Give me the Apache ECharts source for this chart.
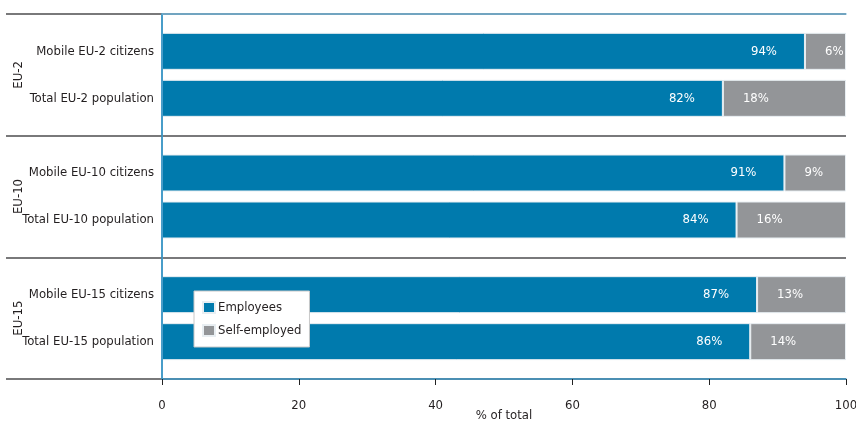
<!DOCTYPE html>
<html><head><meta charset="utf-8">
<script src="https://cdn.jsdelivr.net/npm/echarts@6/dist/echarts.min.js"></script>
<style>html,body{margin:0;padding:0;background:#fff}#c{width:856px;height:425px}</style>
</head><body><div id="c"></div>
<script>
var groups = ['EU-2', 'EU-10', 'EU-15'];
var categories = [
  ['Mobile EU-2 citizens', 'Total EU-2 population'],
  ['Mobile EU-10 citizens', 'Total EU-10 population'],
  ['Mobile EU-15 citizens', 'Total EU-15 population']
];
var employees = [[94, 82], [91, 84], [87, 86]];
var selfEmployed = [[6, 18], [9, 16], [13, 14]];
var seriesNames = ['Employees', 'Self-employed'];
var xMin = 0, xMax = 100, xInterval = 20;
var xName = '% of total';

var FONT = "'DejaVu Sans Condensed', 'Liberation Sans Narrow', sans-serif";
var FS = 13;
var TXT = '#231f20';
var BLUE = '#007aad', GREY = '#939598';
var FRAME = '#3d97c6', DARK = '#4d4d4f';
var L = 162, R = 10, T = 14, B = 46, H = 425, W = 856;
var plotH = H - T - B;
var gh = plotH / groups.length;
var inner = 94;

var grids = [{left: L, right: R, top: T, bottom: B, outerBoundsMode: 'none', containLabel: false}];
var xAxes = [
  {gridIndex: 0, type: 'value', min: xMin, max: xMax, interval: xInterval, position: 'bottom', z: 5,
   axisLine: {show: true, lineStyle: {color: FRAME, width: 1.5}},
   axisTick: {show: true, length: 6, lineStyle: {color: '#222'}},
   axisLabel: {color: TXT, fontFamily: FONT, fontSize: FS, margin: 20},
   splitLine: {show: false}},
  {gridIndex: 0, type: 'value', min: xMin, max: xMax, position: 'top', z: 5,
   axisLine: {show: true, lineStyle: {color: '#6fb3d8', width: 1.5}},
   axisTick: {show: false}, axisLabel: {show: false}, splitLine: {show: false}}
];
var yAxes = [
  {gridIndex: 0, type: 'category', data: groups, inverse: true, position: 'left', z: 4,
   axisLine: {show: true, lineStyle: {color: FRAME, width: 1.5}},
   axisTick: {show: true, length: 156, lineStyle: {color: DARK, width: 1.5}},
   splitLine: {show: true, lineStyle: {color: DARK, width: 1.5}},
   axisLabel: {rotate: 90, margin: 137, color: TXT, fontFamily: FONT, fontSize: FS}},
  {gridIndex: 0, type: 'category', data: groups, inverse: true, position: 'right', z: 5,
   axisLine: {show: true, lineStyle: {color: FRAME, width: 1.5}},
   axisTick: {show: false}, axisLabel: {show: false}, splitLine: {show: false}}
];
var series = [];
groups.forEach(function (g, i) {
  var gi = i + 1;
  var top = T + gh * i + (gh - inner) / 2;
  grids.push({left: L, right: R, top: top, height: inner, outerBoundsMode: 'none', containLabel: false});
  xAxes.push({gridIndex: gi, type: 'value', min: xMin, max: xMax, show: false});
  yAxes.push({gridIndex: gi, type: 'category', data: categories[i], inverse: true, z: 6,
    axisLine: {show: false}, axisTick: {show: false}, splitLine: {show: false},
    axisLabel: {margin: 8, color: TXT, fontFamily: FONT, fontSize: FS}});
  series.push({
    name: seriesNames[0], type: 'bar', stack: 's' + i, xAxisIndex: gi + 1, yAxisIndex: gi + 1,
    data: employees[i], barWidth: 37, z: 3,
    itemStyle: {color: BLUE, borderColor: '#e8eef2', borderWidth: 1},
    label: {show: true, position: 'insideRight', distance: 28, color: '#fff',
      fontFamily: FONT, fontSize: FS, formatter: '{c}%'}
  });
  series.push({
    name: seriesNames[1], type: 'bar', stack: 's' + i, xAxisIndex: gi + 1, yAxisIndex: gi + 1,
    data: selfEmployed[i], barWidth: 37, z: 3,
    itemStyle: {color: GREY, borderColor: '#e8eef2', borderWidth: 1},
    label: {show: true, position: 'insideLeft', distance: 20, color: '#fff',
      fontFamily: FONT, fontSize: FS, formatter: '{c}%'}
  });
});

var chart = echarts.init(document.getElementById('c'), null, {renderer: 'canvas'});
chart.setOption({
  animation: false,
  backgroundColor: '#fff',
  title: {
    text: xName, left: L + (W - L - R) / 2, top: 409, textAlign: 'center', padding: 0,
    textStyle: {color: TXT, fontFamily: FONT, fontSize: FS, fontWeight: 'normal'}
  },
  grid: grids,
  xAxis: xAxes,
  yAxis: yAxes,
  legend: {
    data: seriesNames, orient: 'vertical', left: 194, top: 291, z: 10,
    backgroundColor: '#fff', borderColor: '#c8c8c8', borderWidth: 1,
    padding: [10, 8, 10, 8], itemWidth: 12, itemHeight: 11, itemGap: 10, icon: 'rect',
    textStyle: {color: TXT, fontFamily: FONT, fontSize: FS, padding: [0, 0, 0, -2]}
  },
  series: series
});
</script></body></html>
